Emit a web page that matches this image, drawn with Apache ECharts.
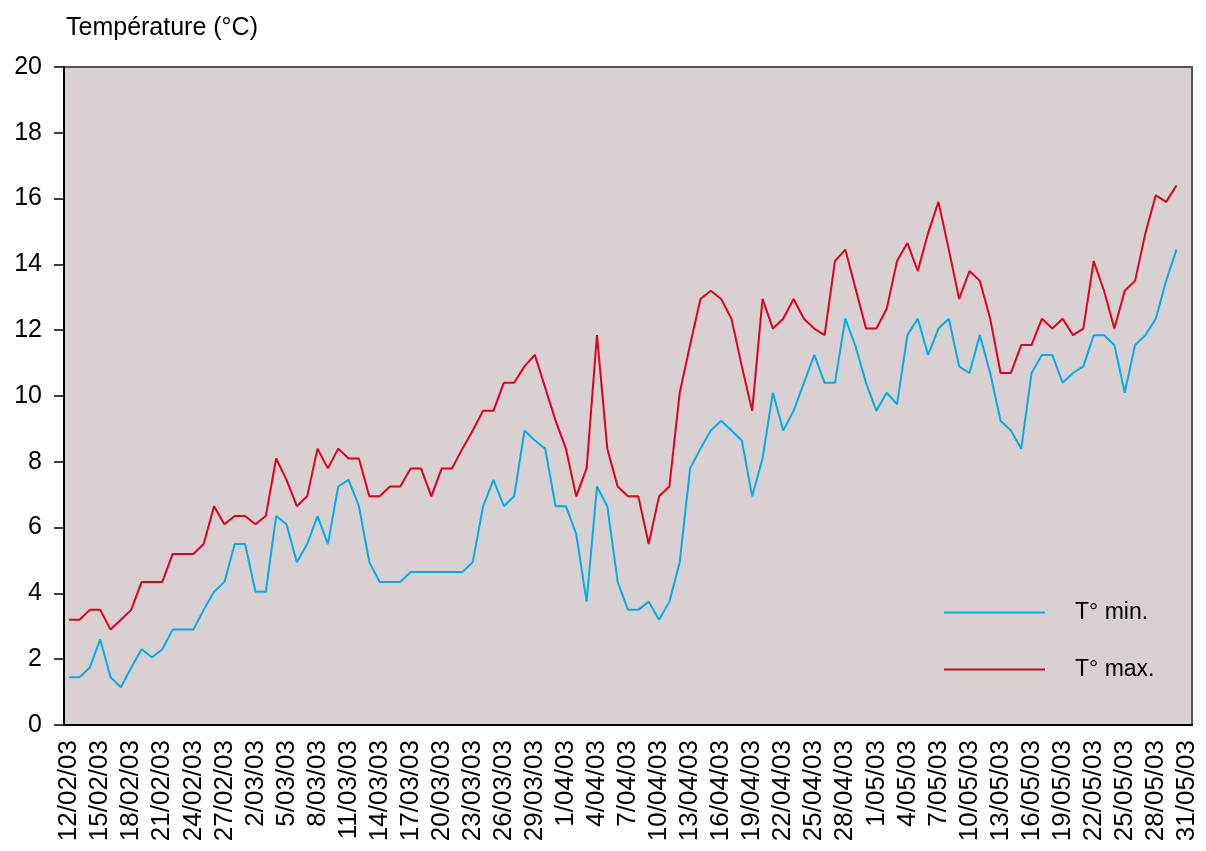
<!DOCTYPE html>
<html lang="fr">
<head>
<meta charset="utf-8">
<title>Températures</title>
<script src="https://cdn.jsdelivr.net/npm/echarts@6/dist/echarts.min.js"></script>
<style>
  html, body { margin: 0; padding: 0; background: #fff; }
  #main { width: 1206px; height: 851px; }
</style>
</head>
<body>
<div id="main"></div>
<script>
// one category per day, 12/02/03 -> 31/05/03
var dates = [
  '12/02/03','13/02/03','14/02/03','15/02/03','16/02/03','17/02/03','18/02/03','19/02/03','20/02/03',
  '21/02/03','22/02/03','23/02/03','24/02/03','25/02/03','26/02/03','27/02/03','28/02/03',
  '1/03/03','2/03/03','3/03/03','4/03/03','5/03/03','6/03/03','7/03/03','8/03/03','9/03/03','10/03/03',
  '11/03/03','12/03/03','13/03/03','14/03/03','15/03/03','16/03/03','17/03/03','18/03/03','19/03/03','20/03/03',
  '21/03/03','22/03/03','23/03/03','24/03/03','25/03/03','26/03/03','27/03/03','28/03/03','29/03/03','30/03/03','31/03/03',
  '1/04/03','2/04/03','3/04/03','4/04/03','5/04/03','6/04/03','7/04/03','8/04/03','9/04/03','10/04/03',
  '11/04/03','12/04/03','13/04/03','14/04/03','15/04/03','16/04/03','17/04/03','18/04/03','19/04/03','20/04/03',
  '21/04/03','22/04/03','23/04/03','24/04/03','25/04/03','26/04/03','27/04/03','28/04/03','29/04/03','30/04/03',
  '1/05/03','2/05/03','3/05/03','4/05/03','5/05/03','6/05/03','7/05/03','8/05/03','9/05/03','10/05/03',
  '11/05/03','12/05/03','13/05/03','14/05/03','15/05/03','16/05/03','17/05/03','18/05/03','19/05/03','20/05/03',
  '21/05/03','22/05/03','23/05/03','24/05/03','25/05/03','26/05/03','27/05/03','28/05/03','29/05/03','30/05/03','31/05/03'
];

var tMin = [
  1.45, 1.45, 1.75, 2.6, 1.45, 1.15, 1.75, 2.3, 2.05, 2.3,
  2.9, 2.9, 2.9, 3.5, 4.05, 4.35, 5.5, 5.5, 4.05, 4.05,
  6.35, 6.1, 4.95, 5.5, 6.35, 5.5, 7.25, 7.45, 6.65, 4.95,
  4.35, 4.35, 4.35, 4.65, 4.65, 4.65, 4.65, 4.65, 4.65, 4.95,
  6.65, 7.45, 6.65, 6.95, 8.95, 8.65, 8.4, 6.65, 6.65, 5.8,
  3.75, 7.25, 6.65, 4.35, 3.5, 3.5, 3.75, 3.2, 3.75, 4.95,
  7.8, 8.4, 8.95, 9.25, 8.95, 8.65, 6.95, 8.1, 10.1, 8.95,
  9.55, 10.4, 11.25, 10.4, 10.4, 12.35, 11.5, 10.4, 9.55, 10.1,
  9.75, 11.85, 12.35, 11.25, 12.05, 12.35, 10.9, 10.7, 11.85, 10.7,
  9.25, 8.95, 8.4, 10.7, 11.25, 11.25, 10.4, 10.7, 10.9, 11.85,
  11.85, 11.55, 10.1, 11.55, 11.85, 12.35, 13.5, 14.45
];

var tMax = [
  3.2, 3.2, 3.5, 3.5, 2.9, 3.2, 3.5, 4.35, 4.35, 4.35,
  5.2, 5.2, 5.2, 5.5, 6.65, 6.1, 6.35, 6.35, 6.1, 6.35,
  8.1, 7.45, 6.65, 6.95, 8.4, 7.8, 8.4, 8.1, 8.1, 6.95,
  6.95, 7.25, 7.25, 7.8, 7.8, 6.95, 7.8, 7.8, 8.4, 8.95,
  9.55, 9.55, 10.4, 10.4, 10.9, 11.25, 10.25, 9.25, 8.4, 6.95,
  7.8, 11.85, 8.4, 7.25, 6.95, 6.95, 5.5, 6.95, 7.25, 10.1,
  11.55, 12.95, 13.2, 12.95, 12.35, 10.9, 9.55, 12.95, 12.05, 12.35,
  12.95, 12.35, 12.05, 11.85, 14.1, 14.45, 13.25, 12.05, 12.05, 12.65,
  14.1, 14.65, 13.8, 14.95, 15.9, 14.45, 12.95, 13.8, 13.5, 12.35,
  10.7, 10.7, 11.55, 11.55, 12.35, 12.05, 12.35, 11.85, 12.05, 14.1,
  13.2, 12.05, 13.2, 13.5, 14.95, 16.1, 15.9, 16.4
];

var font = '"Liberation Sans", Arial, sans-serif';

var myChart = echarts.init(document.getElementById('main'));
var option = {
  animation: false,
  title: {
    text: 'Température (°C)',
    left: 66, top: 16, padding: 0,
    textStyle: { fontFamily: font, fontSize: 25, fontWeight: 'normal', color: '#000' }
  },
  legend: {
    orient: 'vertical',
    left: 944, top: 601, padding: 0,
    icon: 'rect',
    itemWidth: 101, itemHeight: 2, itemGap: 34,
    data: ['T° min.', 'T° max.'],
    textStyle: { fontFamily: font, fontSize: 23, color: '#000', padding: [0, 0, 0, 25] }
  },
  grid: {
    left: 64, top: 67, right: 14, bottom: 126,
    show: true,
    backgroundColor: '#d9d0d1',
    borderColor: '#555',
    borderWidth: 2
  },
  xAxis: {
    type: 'category',
    data: dates,
    boundaryGap: true,
    axisLine: { lineStyle: { color: '#000', width: 2 } },
    axisTick: { alignWithLabel: true, interval: 2, length: 10, lineStyle: { color: '#000', width: 1.5 } },
    axisLabel: { interval: 2, rotate: 90, margin: 15, fontFamily: font, fontSize: 26, color: '#000' },
    splitLine: { show: false }
  },
  yAxis: {
    type: 'value',
    min: 0, max: 20, interval: 2,
    axisLine: { show: true, lineStyle: { color: '#000', width: 2 } },
    axisTick: { show: true, length: 10, lineStyle: { color: '#000', width: 1.5 } },
    axisLabel: { margin: 22, fontFamily: font, fontSize: 25, color: '#000' },
    splitLine: { show: false }
  },
  series: [
    {
      name: 'T° min.',
      type: 'line',
      data: tMin,
      symbol: 'none',
      color: '#00aeef',
      lineStyle: { color: '#00aeef', width: 2 }
    },
    {
      name: 'T° max.',
      type: 'line',
      data: tMax,
      symbol: 'none',
      color: '#e2001a',
      lineStyle: { color: '#e2001a', width: 2 }
    }
  ]
};
myChart.setOption(option);
</script>
</body>
</html>
